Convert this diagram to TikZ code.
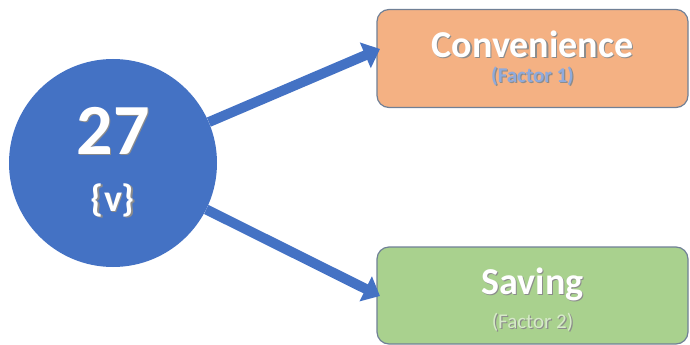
\documentclass[tikz,border=0pt]{standalone}
\usepackage{fontspec}
\setmainfont{Carlito}
\usepackage{tikz}
\usepackage{xcolor}
\usetikzlibrary{arrows.meta,positioning,calc}
\definecolor{NodeBlue}{RGB}{68,114,196}
\definecolor{SoftOrange}{RGB}{244,177,131}
\definecolor{SoftGreen}{RGB}{169,209,142}
\definecolor{BoxEdge}{RGB}{112,128,150}
\definecolor{FactorBlue}{RGB}{143,170,220}
\definecolor{FactorGreen}{RGB}{214,234,200}
\newcommand{\shtext}[2][white]{\rlap{\kern1.2pt\raisebox{-1.2pt}{\color{black!45}#2}}{\color{#1}#2}}

\begin{document}
\begin{tikzpicture}[x=1pt, y=-1pt, every node/.style={font=\bfseries},
  factorbox/.style={draw=BoxEdge, line width=1.2pt, rounded corners=12pt, minimum width=311pt, minimum height=98pt, align=center, inner sep=0pt},
  bigarrow/.style={draw=NodeBlue, line width=10pt, -{Triangle[length=16pt, width=27pt]}}]
\useasboundingbox (0,0) rectangle (690,345);
\node[circle, fill=NodeBlue, minimum size=208pt, inner sep=0pt, align=center] (vote) at (113,163)
  {\fontsize{72}{72}\selectfont\shtext{27}\\[27pt]\fontsize{38}{38}\selectfont\shtext{\{v\}}};
\node[factorbox, fill=SoftOrange] (conv) at (532.5,58.5)
  {\fontsize{38}{38}\selectfont\shtext{Convenience}\\[7pt]\fontsize{21}{21}\selectfont\shtext[FactorBlue]{(Factor 1)}};
\node[factorbox, fill=SoftGreen, minimum height=97pt] (save) at (532.5,295.5)
  {\fontsize{38}{38}\selectfont\rule{0pt}{36pt}\shtext{Saving}\\[10pt]\fontsize{21}{21}\selectfont\mdseries\shtext[FactorGreen]{(Factor 2)}};
\coordinate (convtip) at (380,49);
\coordinate (savetip) at (380,296);
\draw[bigarrow] (vote) -- (convtip);
\draw[bigarrow] (vote) -- (savetip);
\end{tikzpicture}
\end{document}
